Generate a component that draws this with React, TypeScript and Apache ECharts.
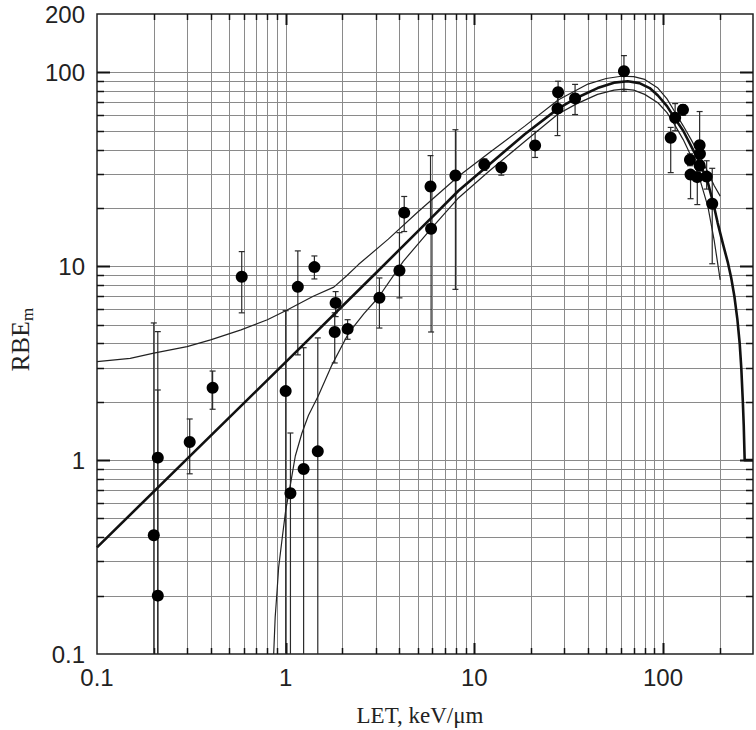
import React, { useEffect, useRef } from "react";
import * as echarts from "echarts";

// ---- Axis ranges ----
const X_MIN = 0.1;
const X_MAX = 300;
const Y_MIN = 0.1;
const Y_MAX = 200;

// ---- Measured points: LET (keV/µm), RBEm, error low, error high ----
const pointLET = [0.2, 0.21, 0.21, 0.31, 0.41, 0.585, 1.0, 1.06, 1.16, 1.245, 1.42, 1.48, 1.84, 1.82, 2.13, 3.14, 4.01, 4.25, 5.86, 5.9, 7.94, 11.3, 13.9, 21.0, 27.8, 27.6, 34.2, 62.1, 116, 127.6, 109.9, 156.4, 157, 139, 156.4, 140, 152, 170.4, 182.4];
const pointRBE = [0.41, 1.03, 0.2, 1.24, 2.36, 8.83, 2.27, 0.675, 7.83, 0.9, 9.9, 1.11, 6.47, 4.58, 4.75, 6.88, 9.5, 18.9, 25.8, 15.6, 29.4, 33.5, 32.3, 42, 78.9, 65, 73.4, 101.3, 58.3, 64.2, 46, 42.1, 38, 35.4, 33.1, 29.7, 28.8, 29, 21];
const errLow = [0.1, 0.1, 0.1, 0.85, 1.83, 5.75, 0.1, 0.1, 3.49, 0.1, 8.6, 0.1, 5.5, 3.17, 4.2, 4.8, 6.87, 15.1, 15.6, 4.58, 7.6, 31.2, 29.5, 36.4, 65, 47.2, 60.6, 79.9, 50, 60, 30.4, 40, 35, 33, 31, 22.3, 20.8, 25, 10.3];
const errHigh = [5.1, 4.6, 2.3, 1.63, 2.88, 11.9, 5.9, 1.38, 12.0, 3.8, 11.3, 4.27, 7.4, 5.75, 5.3, 8.7, 14.9, 22.9, 37.2, 25.8, 50.6, 35.8, 34, 49.6, 90, 78.9, 86.7, 122, 69, 68, 52, 62.8, 41, 38, 35, 31, 30.5, 35, 32];

// ---- Fitted curve (thick) ----
const fitLET = [0.1, 1, 3, 5.83, 8.24, 12, 18.5, 27.8, 35, 45, 55, 65, 75, 85, 94, 105, 115, 128, 141, 157, 173, 185, 195, 208, 221, 230, 239, 248, 255, 260, 265, 268, 271, 300];
const fitRBE = [0.355, 3.2, 9.2, 17.5, 24.5, 33.5, 48, 65, 74, 83, 88.5, 90, 88, 83, 76, 67, 58.3, 50, 41.6, 34, 27, 21, 16.7, 13, 10.4, 8.7, 7, 5.3, 4, 3, 2, 1.5, 1, 1];

// ---- Upper confidence band ----
const upperLET = [0.1, 0.15, 0.2, 0.3, 0.4, 0.58, 0.8, 1.0, 1.4, 1.8, 2.1, 2.43, 3.5, 5, 8.24, 12, 18.5, 27.8, 40, 50, 60, 70, 80, 94, 105, 115, 128, 141, 157, 173, 187, 201];
const upperRBE = [3.22, 3.35, 3.56, 3.85, 4.17, 4.7, 5.3, 5.89, 7.0, 7.8, 8.9, 10.2, 13.8, 19, 29.1, 38.5, 52.8, 72, 87, 93, 95.5, 95, 92, 83, 73, 63, 53, 45, 37, 30.5, 26, 23];

// ---- Lower confidence band ----
const lowerLET = [0.864, 0.88, 0.9, 0.918, 0.96, 1.0, 1.06, 1.125, 1.22, 1.32, 1.49, 1.76, 2.15, 2.6, 3.1, 4.2, 5.83, 8.24, 12, 18.5, 27.8, 35, 45, 55, 62, 70, 80, 94, 105, 115, 128, 141, 157, 173, 187, 201];
const lowerRBE = [0.1, 0.155, 0.21, 0.28, 0.4, 0.55, 0.75, 1.05, 1.38, 1.7, 2.15, 3.1, 4.5, 5.7, 6.9, 10.6, 15.4, 22.5, 31, 44, 61, 69, 77, 81, 82, 81, 77, 69.7, 62, 53.9, 45, 36.9, 28, 20.3, 13.5, 8.5];

// ---- Grid / tick values ----
const xGridValues = [0.2, 0.3, 0.4, 0.5, 0.6, 0.7, 0.8, 0.9, 1, 2, 3, 4, 5, 6, 7, 8, 9, 10, 20, 30, 40, 50, 60, 70, 80, 90, 100, 200];
const yGridValues = [0.2, 0.3, 0.4, 0.5, 0.6, 0.7, 0.8, 0.9, 1, 2, 3, 4, 5, 6, 7, 8, 9, 10, 20, 30, 40, 50, 60, 70, 80, 90, 100];
const xMajor = [1, 10, 100];
const yMajor = [1, 10, 100];
const yLabelValues = [0.1, 1, 10, 100, 200];
const xLabelValues = [0.1, 1, 10, 100];

const pair = (xs: number[], ys: number[]) => xs.map((x, i) => [x, ys[i]]);

const fmtFor = (allowed: number[]) => (v: number) => {
  for (const a of allowed) {
    if (Math.abs(v - a) / a < 1e-6) return a < 1 ? a.toFixed(1) : String(a);
  }
  return "";
};

export default function App() {
  const ref = useRef<HTMLDivElement>(null);

  useEffect(() => {
    if (!ref.current) return;
    const chart = echarts.init(ref.current, null, { renderer: "svg" });

    const gridColor = "#8a8a8a";
    const MAJ = 11;
    const MIN = 6;
    const labelFont = "Liberation Sans, Arial, sans-serif";
    const serif = "Liberation Serif, Times New Roman, serif";

    const option: any = {
      animation: false,
      backgroundColor: "#ffffff",
      grid: {
        left: 97,
        top: 14,
        width: 658,
        height: 640,
        show: true,
        borderColor: "#222",
        borderWidth: 1.5,
        backgroundColor: "transparent",
      },
      xAxis: {
        type: "log",
        logBase: 10,
        min: X_MIN,
        max: X_MAX,
        axisLine: { show: false },
        axisTick: { show: false },
        splitLine: { show: false },
        minorTick: { show: false },
        axisLabel: {
          formatter: fmtFor(xLabelValues),
          fontFamily: labelFont,
          fontSize: 24,
          color: "#222",
          margin: 11,
          showMinLabel: true,
          showMaxLabel: true,
        },
      },
      yAxis: {
        type: "log",
        logBase: 10,
        min: Y_MIN,
        max: Y_MAX,
        axisLine: { show: false },
        axisTick: { show: false },
        splitLine: { show: false },
        minorTick: { show: false },
        axisLabel: {
          formatter: fmtFor(yLabelValues),
          fontFamily: labelFont,
          fontSize: 24,
          color: "#222",
          margin: 12,
          showMinLabel: true,
          showMaxLabel: true,
        },
      },
      graphic: [
        {
          type: "text",
          x: 420,
          y: 715,
          style: {
            text: "LET, keV/\u03bcm",
            fontFamily: serif,
            fontSize: 23,
            fill: "#222",
            align: "center",
            verticalAlign: "middle",
          },
        },
        {
          type: "group",
          x: 20,
          y: 341,
          rotation: Math.PI / 2,
          children: [
            {
              type: "text",
              x: 20,
              y: 0,
              style: {
                text: "RBE",
                fontFamily: serif,
                fontSize: 26,
                fill: "#222",
                align: "right",
                verticalAlign: "middle",
              },
            },
            {
              type: "text",
              x: 20,
              y: 7,
              style: {
                text: "m",
                fontFamily: serif,
                fontSize: 17,
                fill: "#222",
                align: "left",
                verticalAlign: "middle",
              },
            },
          ],
        },
      ],
      series: [
        // vertical grid lines
        {
          type: "custom",
          silent: true,
          z: 1,
          data: xGridValues.map((v) => [v, 1]),
          renderItem: (params: any, api: any) => {
            const cs = params.coordSys;
            const px = Math.round(api.coord([api.value(0), 1])[0]) + 0.5;
            return {
              type: "line",
              shape: { x1: px, y1: cs.y, x2: px, y2: cs.y + cs.height },
              style: { stroke: gridColor, lineWidth: 1 },
            };
          },
        },
        // horizontal grid lines
        {
          type: "custom",
          silent: true,
          z: 1,
          data: yGridValues.map((v) => [1, v]),
          renderItem: (params: any, api: any) => {
            const cs = params.coordSys;
            const py = Math.round(api.coord([1, api.value(1)])[1]) + 0.5;
            return {
              type: "line",
              shape: { x1: cs.x, y1: py, x2: cs.x + cs.width, y2: py },
              style: { stroke: gridColor, lineWidth: 1 },
            };
          },
        },
        // x ticks (bottom and top, inside)
        {
          type: "custom",
          silent: true,
          z: 3,
          data: xGridValues.map((v) => [v, 1, xMajor.indexOf(v) >= 0 ? 1 : 0]),
          renderItem: (params: any, api: any) => {
            const cs = params.coordSys;
            const px = Math.round(api.coord([api.value(0), 1])[0]) + 0.5;
            const len = api.value(2) ? MAJ : MIN;
            const lw = api.value(2) ? 2 : 1.5;
            return {
              type: "group",
              children: [
                { type: "line", shape: { x1: px, y1: cs.y + cs.height, x2: px, y2: cs.y + cs.height - len }, style: { stroke: "#111", lineWidth: lw } },
                { type: "line", shape: { x1: px, y1: cs.y, x2: px, y2: cs.y + len }, style: { stroke: "#111", lineWidth: lw } },
              ],
            };
          },
        },
        // y ticks (left and right, inside)
        {
          type: "custom",
          silent: true,
          z: 3,
          data: yGridValues.map((v) => [1, v, yMajor.indexOf(v) >= 0 ? 1 : 0]),
          renderItem: (params: any, api: any) => {
            const cs = params.coordSys;
            const py = Math.round(api.coord([1, api.value(1)])[1]) + 0.5;
            const len = api.value(2) ? MAJ + 2 : MIN + 1;
            const lw = api.value(2) ? 2 : 1.5;
            return {
              type: "group",
              children: [
                { type: "line", shape: { x1: cs.x, y1: py, x2: cs.x + len, y2: py }, style: { stroke: "#111", lineWidth: lw } },
                { type: "line", shape: { x1: cs.x + cs.width, y1: py, x2: cs.x + cs.width - len, y2: py }, style: { stroke: "#111", lineWidth: lw } },
              ],
            };
          },
        },
        // error bars
        {
          type: "custom",
          silent: true,
          z: 4,
          clip: true,
          data: pointLET.map((x, i) => [x, pointRBE[i], errLow[i], errHigh[i]]),
          renderItem: (params: any, api: any) => {
            const x = api.value(0);
            const lo = api.value(2);
            const hi = api.value(3);
            const pLo = api.coord([x, lo]);
            const pHi = api.coord([x, hi]);
            const cap = 3;
            const st = { stroke: "#2a2a2a", lineWidth: 1.2 };
            const children: any[] = [
              { type: "line", shape: { x1: pLo[0], y1: pLo[1], x2: pHi[0], y2: pHi[1] }, style: st },
              { type: "line", shape: { x1: pHi[0] - cap, y1: pHi[1], x2: pHi[0] + cap, y2: pHi[1] }, style: st },
            ];
            if (lo > Y_MIN * 1.0001) {
              children.push({ type: "line", shape: { x1: pLo[0] - cap, y1: pLo[1], x2: pLo[0] + cap, y2: pLo[1] }, style: st });
            }
            return { type: "group", children };
          },
        },
        // upper band
        {
          type: "line",
          data: pair(upperLET, upperRBE),
          showSymbol: false,
          smooth: false,
          clip: true,
          z: 5,
          silent: true,
          lineStyle: { color: "#222", width: 1.2 },
        },
        // lower band
        {
          type: "line",
          data: pair(lowerLET, lowerRBE),
          showSymbol: false,
          smooth: false,
          clip: true,
          z: 5,
          silent: true,
          lineStyle: { color: "#222", width: 1.2 },
        },
        // fit
        {
          type: "line",
          data: pair(fitLET, fitRBE),
          showSymbol: false,
          smooth: false,
          clip: true,
          z: 6,
          silent: true,
          lineStyle: { color: "#111", width: 2.6, join: "round" },
        },
        // points
        {
          type: "scatter",
          data: pair(pointLET, pointRBE),
          symbol: "circle",
          symbolSize: 12,
          z: 7,
          silent: true,
          itemStyle: { color: "#000", opacity: 1 },
        },
      ],
    };

    chart.setOption(option);
    return () => chart.dispose();
  }, []);

  return (
    <div
      ref={ref}
      style={{ position: "fixed", left: 0, top: 0, width: 756, height: 730, background: "#fff" }}
    />
  );
}
